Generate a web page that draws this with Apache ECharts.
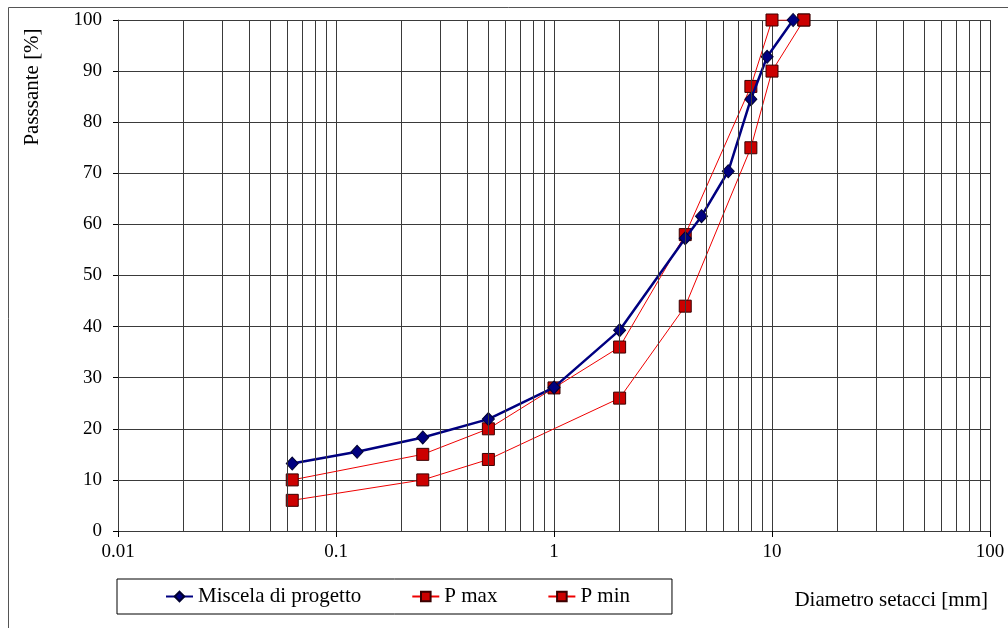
<!DOCTYPE html>
<html>
<head>
<meta charset="utf-8">
<script src="https://cdn.jsdelivr.net/npm/echarts@6/dist/echarts.min.js"></script>
<style>
  html, body { margin: 0; padding: 0; background: #fff; }
  #chart { width: 1008px; height: 628px; }
</style>
</head>
<body>
<div id="chart"></div>
<script>
let myChart = echarts.init(document.getElementById("chart"));

// curva granulometrica: diametro setacci [mm] / passante [%]
let miscelaX = [0.063, 0.125, 0.25, 0.5, 1, 2, 4, 4.75, 6.3, 8, 9.5, 12.5];
let miscelaY = [13.2, 15.5, 18.3, 21.9, 28.1, 39.3, 57.3, 61.6, 70.4, 84.5, 92.8, 100];

let pMaxX = [0.063, 0.25, 0.5, 1, 2, 4, 8, 10, 14];
let pMaxY = [10, 15, 20, 28, 36, 58, 87, 100, 100];

let pMinX = [0.063, 0.25, 0.5, 2, 4, 8, 10, 14];
let pMinY = [6, 10, 14, 26, 44, 75, 90, 100];

// linee verticali intermedie della scala logaritmica
let minorX = [];
[0.01, 0.1, 1, 10].forEach(function (d) {
  for (let k = 2; k <= 9; k++) minorX.push(+(d * k).toPrecision(3));
});

let gridColor = "#3a3a3a";
let font = "Liberation Serif";

function pairs(xs, ys) {
  return xs.map(function (x, i) { return [x, ys[i]]; });
}

let option = {
  animation: false,
  backgroundColor: "#fff",
  textStyle: { fontFamily: font },
  grid: { left: 118, right: 18, top: 20, bottom: 97 },
  legend: {
    data: ["Miscela di progetto", "P max", "P min"],
    left: 117,
    top: 579,
    orient: "horizontal",
    padding: [7, 42, 7, 48],
    itemGap: 50,
    itemWidth: 27,
    itemHeight: 12,
    borderColor: "#000",
    borderWidth: 1,
    textStyle: { fontFamily: font, fontSize: 21, color: "#000", lineHeight: 21 },
  },
  xAxis: {
    type: "log",
    logBase: 10,
    min: 0.01,
    max: 100,
    axisLine: { show: true, lineStyle: { color: gridColor, width: 1 } },
    axisTick: { show: true, length: 6, lineStyle: { color: "#000" } },
    axisLabel: {
      fontFamily: font,
      fontSize: 19,
      color: "#000",
      margin: 12,
      formatter: function (v) { return String(+v.toPrecision(3)); },
    },
    splitLine: { show: true, lineStyle: { color: gridColor, width: 1 } },
  },
  yAxis: {
    type: "value",
    min: 0,
    max: 100,
    interval: 10,
    axisLine: { show: true, lineStyle: { color: gridColor, width: 1 } },
    axisTick: { show: true, length: 5, lineStyle: { color: "#000" } },
    axisLabel: { fontFamily: font, fontSize: 19, color: "#000", margin: 16 },
    splitLine: { show: true, lineStyle: { color: gridColor, width: 1 } },
  },
  graphic: [
    {
      type: "rect",
      shape: { x: 8.5, y: 7.5, width: 1100, height: 700 },
      style: { fill: "none", stroke: "#555", lineWidth: 1 },
      z: -10,
      silent: true,
    },
    {
      type: "text",
      x: 32,
      y: 87,
      rotation: Math.PI / 2,
      style: {
        text: "Passsante [%]",
        font: "21px 'Liberation Serif'",
        fill: "#000",
        textAlign: "center",
        textVerticalAlign: "middle",
      },
    },
    {
      type: "text",
      x: 988,
      y: 600,
      style: {
        text: "Diametro setacci [mm]",
        font: "21px 'Liberation Serif'",
        fill: "#000",
        textAlign: "right",
        textVerticalAlign: "middle",
      },
    },
  ],
  series: [
    {
      name: "griglia",
      type: "line",
      data: [],
      z: 1,
      silent: true,
      markLine: {
        silent: true,
        symbol: "none",
        animation: false,
        label: { show: false },
        lineStyle: { color: gridColor, width: 1, type: "solid" },
        data: minorX.map(function (v) { return { xAxis: v }; }),
      },
    },
    {
      name: "P max",
      type: "line",
      z: 3,
      data: pairs(pMaxX, pMaxY),
      symbol: "rect",
      symbolSize: 12,
      lineStyle: { color: "#ee0000", width: 1 },
      itemStyle: { color: "#cc0000", borderColor: "#3a0000", borderWidth: 1 },
    },
    {
      name: "P min",
      type: "line",
      z: 3,
      data: pairs(pMinX, pMinY),
      symbol: "rect",
      symbolSize: 12,
      lineStyle: { color: "#ee0000", width: 1 },
      itemStyle: { color: "#cc0000", borderColor: "#3a0000", borderWidth: 1 },
    },
    {
      name: "Miscela di progetto",
      type: "line",
      z: 4,
      data: pairs(miscelaX, miscelaY),
      symbol: "diamond",
      symbolSize: [12, 13],
      lineStyle: { color: "#000080", width: 2.5 },
      itemStyle: { color: "#000080", borderColor: "#000030", borderWidth: 1 },
    },
  ],
};

myChart.setOption(option);
</script>
</body>
</html>
